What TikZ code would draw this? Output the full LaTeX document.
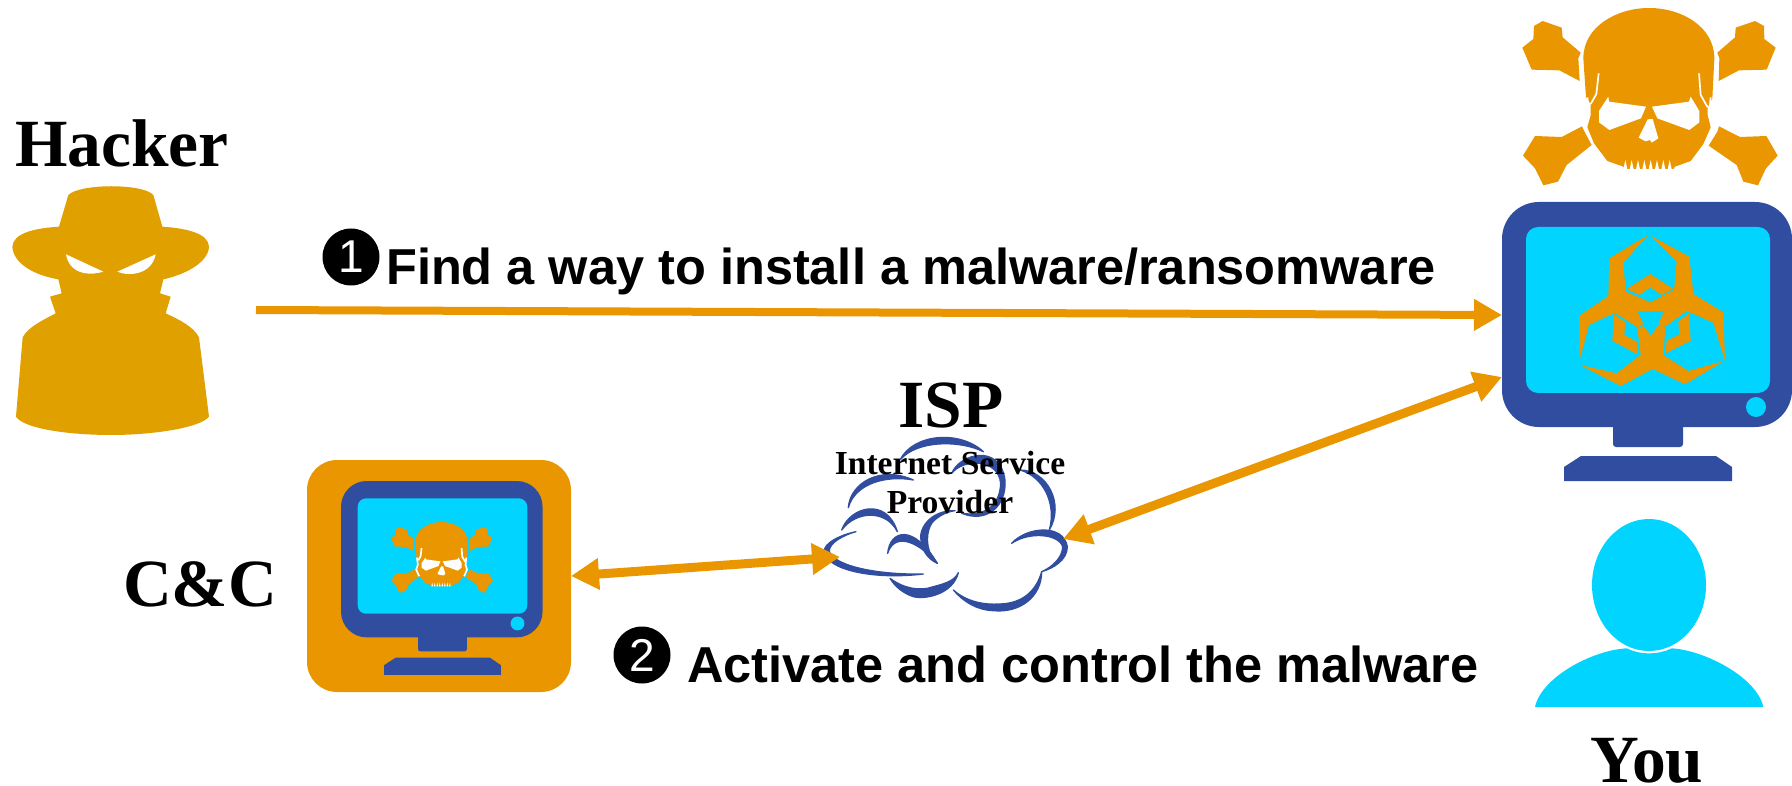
\documentclass[tikz,border=0pt]{standalone}
\usepackage{fontspec}
\setmainfont{Liberation Serif}
\newfontfamily\stepfont{Liberation Sans}
\usetikzlibrary{arrows.meta}
\definecolor{malorange}{HTML}{EA9600}
\definecolor{hackergold}{HTML}{DFA000}
\definecolor{screenblue}{HTML}{304DA0}
\definecolor{screencyan}{HTML}{00D4FF}
\tikzset{
  actor/.style={font=\bfseries\fontsize{67.5}{70}\selectfont, inner sep=0pt},
  isptext/.style={font=\bfseries\fontsize{33.6}{39}\selectfont, inner sep=0pt, align=center},
  steptext/.style={font=\stepfont\bfseries\fontsize{50.5}{54}\selectfont, inner sep=0pt},
  stepmark/.style={circle, fill=black, text=white, minimum size=57pt, inner sep=0pt, font=\stepfont\fontsize{46}{48}\selectfont},
  oneway/.style={draw=malorange, line width=8pt, -{Triangle[length=28pt,width=30pt]}},
  twoway/.style={draw=malorange, line width=9pt, {Triangle[length=28pt,width=30pt]}-{Triangle[length=28pt,width=30pt]}},
  crescent/.style={fill=screenblue, draw=screenblue, line width=1.3pt, line join=round},
  pics/monitor/.style={code={
    \fill[screenblue, rounded corners=37pt*#1] (0,0) rectangle (290,225);
    \fill[screencyan, rounded corners=12pt*#1] (24,25) rectangle (268,191);
    \fill[screencyan] (254,205) circle (10);
    \fill[screenblue, rounded corners=3pt*#1] (111,220) -- (111,245) -- (181,245) -- (181,220) -- cycle;
    \fill[screenblue] (62,265) -- (79,254) -- (214,254) -- (230,265) -- (230,279) -- (62,279) -- cycle;
  }},
  pics/skull/.style={code={
    % bones
    \fill[malorange] (127,143) -- (160,117) -- (162,78) -- (188,63) -- (245,83) -- (248,112) -- (302,158) -- (295,175) -- (299,243) -- (238,211) -- (155,209) -- cycle;
    \fill[malorange] (887,143) -- (853,117) -- (852,78) -- (825,63) -- (767,83) -- (765,112) -- (712,158) -- (718,175) -- (716,243) -- (777,211) -- (860,209) -- cycle;
    \fill[malorange] (129,467) -- (165,408) -- (245,411) -- (306,379) -- (312,392) -- (335,435) -- (260,495) -- (234,545) -- (190,556) -- (165,505) -- cycle;
    \fill[malorange] (893,467) -- (859,408) -- (780,411) -- (717,379) -- (712,395) -- (686,437) -- (770,495) -- (790,545) -- (834,556) -- (858,505) -- cycle;
    % head
    \fill[malorange] (310,175) .. controls (310,80) and (410,24) .. (507,24) .. controls (605,24) and (703,80) .. (703,175) -- (697,295) -- (683,322) -- (683,345) -- (692,382) -- (670,432) -- (632,483) -- (585,500) -- (580,507) -- (435,507) -- (430,500) -- (382,483) -- (342,430) -- (322,382) -- (332,345) -- (332,312) -- (318,292) -- cycle;
    \fill[white] (385,290) -- (357,333) -- (357,367) -- (388,390) -- (483,355) -- (498,320) -- (387,305) -- cycle;
    \fill[white] (632,290) -- (658,333) -- (658,367) -- (628,390) -- (532,355) -- (516,320) -- (627,305) -- cycle;
    \fill[white] (503,358) -- (476,413) -- (497,424) -- (510,420) -- (515,428) -- (535,415) -- (518,357) -- cycle;
    \draw[white, line width=1.7pt] (356,220) -- (349,282) -- (332,312);
    \draw[white, line width=1.7pt] (657,220) -- (662,285) -- (683,322);
    \draw[white, line width=1.7pt] (322,292) -- (328,345) -- (316,382) -- (338,432);
    \draw[white, line width=1.7pt] (692,292) -- (687,345) -- (698,382) -- (676,432);
    % teeth
    \foreach \tooth in {436,455,...,580}
      \fill[white] (\tooth-6,508) -- (\tooth,480) -- (\tooth+6,508) -- cycle;
  }},
}
\begin{document}
\begin{tikzpicture}[x=1pt, y=-1pt]
\useasboundingbox (0,0) rectangle (1792,786);

% Hacker
\fill[hackergold, shift={(0,100)}, scale=1/3] (205,285) .. controls (240,250) and (430,250) .. (460,285) -- (487,380) .. controls (560,385) and (625,400) .. (627,440) .. controls (625,490) and (550,525) .. (490,538) -- (480,580) -- (512,590) -- (497,640) .. controls (540,660) and (580,680) .. (597,712) -- (627,950) .. controls (600,985) and (450,1005) .. (335,1005) .. controls (200,1005) and (70,985) .. (48,950) -- (68,712) .. controls (85,680) and (130,660) .. (167,640) -- (150,590) -- (185,580) -- (175,538) .. controls (100,525) and (40,490) .. (37,440) .. controls (40,400) and (100,385) .. (177,380) -- cycle;
\fill[white, shift={(0,100)}, scale=1/3] (198,463) -- (310,515) .. controls (280,525) and (210,530) .. (198,463) -- cycle;
\fill[white, shift={(0,100)}, scale=1/3] (467,463) -- (352,515) .. controls (385,530) and (455,525) .. (467,463) -- cycle;
\node[actor, anchor=base west] (hacker) at (15,167) {Hacker};

% Infected computer
\pic (skulltop) [shift={(1480,0)}, scale=1/3] {skull};
\pic (pcyou) [shift={(1502,202)}] {monitor={1}};
\begin{scope}[shift={(1480,0)}, scale=1/3]
\fill[malorange] (503,706) -- (388,775) -- (385,888) -- (297,948) -- (298,1083) -- (327,975) -- (405,938) -- (472,982) -- (490,972) -- (472,933) -- (552,933) -- (535,972) -- (556,980) -- (620,933) -- (700,968) -- (735,1083) -- (730,937) -- (640,882) -- (628,770) -- (510,706) -- (590,785) -- (582,870) -- (512,907) -- (437,875) -- (430,788) -- cycle;
\fill[malorange] (300,1095) -- (410,1120) -- (482,1065) -- (472,985) -- (490,978) -- (513,1007) -- (535,975) -- (556,980) -- (550,1065) -- (625,1113) -- (732,1083) -- (615,1153) -- (518,1107) -- (422,1158) -- cycle;
\fill[malorange] (440,867) -- (511,822) -- (580,867) -- (545,885) -- (511,862) -- (478,885) -- cycle;
\fill[malorange] (402,942) -- (436,967) -- (433,1005) -- (470,1025) -- (473,1063) -- (397,1023) -- cycle;
\fill[malorange] (627,940) -- (595,965) -- (598,1003) -- (560,1022) -- (556,1060) -- (632,1022) -- cycle;
\end{scope}

% You
\fill[screencyan, shift={(1520,500)}, scale=1/3] (45,621) .. controls (65,530) and (220,450) .. (320,445) .. controls (360,465) and (415,465) .. (455,445) .. controls (550,450) and (710,530) .. (730,621) -- cycle;
\fill[screencyan] (1649,585) ellipse (57 and 66);
\node[actor, anchor=base] (you) at (1647,782) {You};

% C&C
\fill[malorange, rounded corners=30pt] (307,460) rectangle (571,692);
\pic (pccc) [shift={(341,481)}, scale=.695] {monitor={.695}};
\pic (skullcc) [shift={(374.2,518.8)}, scale=.133] {skull};
\node[actor, anchor=base west] (cc) at (123,606) {C\&C};

% ISP cloud
\begin{scope}[shift={(780,380)}, scale=1/3]
\path[crescent] (205,383) .. controls (210,310) and (300,255) .. (400,300) .. controls (320,285) and (225,310) .. (205,383) -- cycle;
\path[crescent] (360,240) .. controls (400,160) and (540,150) .. (610,215) .. controls (540,180) and (410,180) .. (360,240) -- cycle;
\path[crescent] (515,280) .. controls (540,220) and (660,190) .. (675,300) .. controls (680,380) and (620,430) .. (545,400) .. controls (610,410) and (660,380) .. (662,310) .. controls (655,235) and (550,235) .. (515,280) -- cycle;
\path[crescent] (720,270) .. controls (800,270) and (855,370) .. (808,450) .. controls (830,370) and (790,290) .. (720,270) -- cycle;
\path[crescent] (695,490) .. controls (740,440) and (850,430) .. (862,500) .. controls (862,540) and (820,565) .. (785,575) .. controls (820,560) and (848,530) .. (848,500) .. controls (835,460) and (745,455) .. (695,490) -- cycle;
\path[crescent] (785,575) .. controls (785,650) and (720,700) .. (640,692) .. controls (590,690) and (550,665) .. (520,630) .. controls (560,665) and (610,675) .. (660,672) .. controls (730,670) and (770,630) .. (785,575) -- cycle;
\path[crescent] (535,578) .. controls (520,640) and (440,660) .. (400,650) .. controls (370,640) and (345,620) .. (330,595) .. controls (370,625) and (420,635) .. (460,620) .. controls (500,610) and (525,600) .. (535,578) -- cycle;
\path[crescent] (228,455) .. controls (180,465) and (130,490) .. (133,515) .. controls (140,570) and (280,600) .. (430,582) .. controls (300,585) and (165,560) .. (148,515) .. controls (145,490) and (190,465) .. (228,455) -- cycle;
\path[crescent] (185,450) .. controls (210,380) and (320,350) .. (352,455) .. controls (320,390) and (230,390) .. (185,450) -- cycle;
\path[crescent] (323,520) .. controls (330,450) and (400,430) .. (472,550) .. controls (400,470) and (340,465) .. (323,520) -- cycle;
\path[crescent] (525,392) .. controls (450,390) and (410,450) .. (425,490) .. controls (430,520) and (450,540) .. (472,550) .. controls (445,530) and (430,470) .. (455,430) .. controls (470,410) and (500,395) .. (525,392) -- cycle;
\end{scope}
\node[actor, anchor=base] (isp) at (951,427) {ISP};
\node[isptext, anchor=base] (ispname) at (950,513) {Internet Service\\Provider};

% Connectors
\coordinate (hackerport) at (256,310);
\coordinate (pcporta) at (1502,315);
\coordinate (pcportb) at (1502,377);
\coordinate (ccport) at (571,576);
\coordinate (cloudwest) at (840,557);
\coordinate (cloudeast) at (1063,539);
\draw[oneway] (hackerport) -- (pcporta);
\draw[twoway] (ccport) -- (cloudwest);
\draw[twoway] (cloudeast) -- (pcportb);

% Steps
\node[stepmark] (markone) at (351,257) {1};
\node[steptext, anchor=base west] (stepone) at (386,285) {Find a way to install a malware/ransomware};
\node[stepmark] (marktwo) at (642,655) {2};
\node[steptext, anchor=base west] (steptwo) at (687,682) {Activate and control the malware};
\end{tikzpicture}
\end{document}
